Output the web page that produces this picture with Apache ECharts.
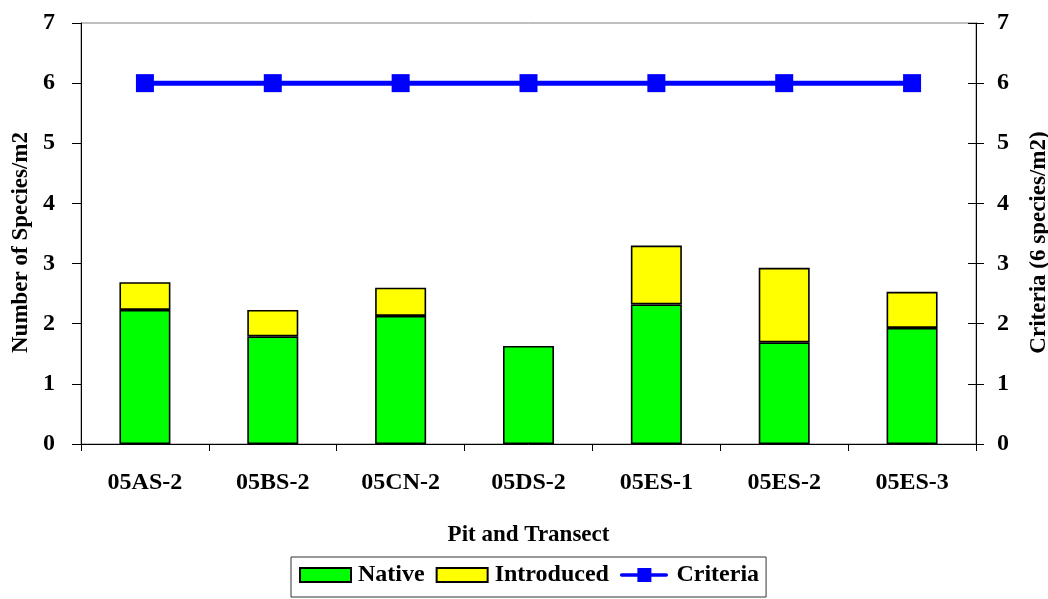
<!DOCTYPE html>
<html>
<head>
<meta charset="utf-8">
<script src="https://cdn.jsdelivr.net/npm/echarts@6/dist/echarts.min.js"></script>
<style>html,body{margin:0;padding:0;background:#fff}#c{width:1048px;height:599px}</style>
</head>
<body>
<div id="c"></div>
<script>
var categories = ['05AS-2', '05BS-2', '05CN-2', '05DS-2', '05ES-1', '05ES-2', '05ES-3'];
var nativeVals = [2.23, 1.79, 2.13, 1.63, 2.32, 1.69, 1.93];
var introducedVals = [0.46, 0.44, 0.47, 0, 0.98, 1.24, 0.60];
var criteriaVals = [6, 6, 6, 6, 6, 6, 6];
var yTicks = [0, 1, 2, 3, 4, 5, 6, 7];

var FONT = '"Liberation Serif", "Times New Roman", serif';
var txt = {fontFamily: FONT, fontWeight: 'bold', color: '#000'};

var chart = echarts.init(document.getElementById('c'), null, {renderer: 'canvas'});
chart.setOption({
  animation: false,
  backgroundColor: '#fff',
  grid: {left: 81, right: 72, top: 23, bottom: 155, show: true, borderColor: '#808080', borderWidth: 1,
         backgroundColor: 'transparent', outerBoundsMode: 'none', containLabel: false},
  legend: {
    left: 291, top: 557,
    padding: [6, 7, 10, 8],
    borderColor: '#333', borderWidth: 1,
    itemWidth: 51, itemHeight: 14, itemGap: 11,
    textStyle: Object.assign({fontSize: 24, padding: [0, 0, 0, 2]}, txt),
    data: [
      {name: 'Native', icon: 'rect', itemStyle: {color: '#00FF00', borderColor: '#000', borderWidth: 2}},
      {name: 'Introduced', icon: 'rect', itemStyle: {color: '#FFFF00', borderColor: '#000', borderWidth: 2}},
      {name: 'Criteria', icon: 'path://M2,6L53,6A2,2,0,0,1,53,10L2,10A2,2,0,0,1,2,6Z M20,0L36,0L36,16L20,16Z', itemStyle: {color: '#0000FF'}}
    ]
  },
  xAxis: {
    type: 'category',
    data: categories,
    name: 'Pit and Transect',
    nameLocation: 'middle',
    nameGap: 80,
    nameTextStyle: Object.assign({fontSize: 23}, txt),
    axisLine: {lineStyle: {color: '#000', width: 1}},
    axisTick: {show: true, length: 7, lineStyle: {color: '#000'}},
    axisLabel: Object.assign({fontSize: 24, margin: 27}, txt),
    splitLine: {show: false}
  },
  yAxis: [
    {
      type: 'value', min: 0, max: 7, interval: 1, position: 'left',
      name: 'Number of Species/m2', nameLocation: 'middle', nameGap: 48, nameRotate: 90,
      nameTextStyle: Object.assign({fontSize: 23, padding: [0, 18, 0, 0]}, txt),
      axisLine: {show: true, lineStyle: {color: '#000'}},
      axisTick: {show: true, length: 9, lineStyle: {color: '#000'}},
      axisLabel: Object.assign({fontSize: 24, margin: 26, formatter: function (v) { return yTicks.indexOf(v) >= 0 ? String(v) : ''; }}, txt),
      splitLine: {show: false}
    },
    {
      type: 'value', min: 0, max: 7, interval: 1, position: 'right',
      name: 'Criteria (6 species/m2)', nameLocation: 'middle', nameGap: 52, nameRotate: 90,
      nameTextStyle: Object.assign({fontSize: 23, padding: [0, 18, 0, 0]}, txt),
      axisLine: {show: true, lineStyle: {color: '#000'}},
      axisTick: {show: true, length: 8, lineStyle: {color: '#000'}},
      axisLabel: Object.assign({fontSize: 24, margin: 21}, txt),
      splitLine: {show: false}
    },
    {
      type: 'value', min: 0, max: 7, interval: 1, position: 'right',
      axisLine: {show: false},
      axisTick: {show: true, inside: true, length: 8, lineStyle: {color: '#000'}},
      axisLabel: {show: false},
      splitLine: {show: false}
    }
  ],
  series: [
    {
      name: 'Native', type: 'bar', stack: 's', yAxisIndex: 0, barWidth: 51,
      data: nativeVals,
      itemStyle: {color: '#00FF00', borderColor: '#000', borderWidth: 1.6}
    },
    {
      name: 'Introduced', type: 'bar', stack: 's', yAxisIndex: 0, barWidth: 51,
      data: introducedVals.map(function (v) { return v === 0 ? null : v; }),
      itemStyle: {color: '#FFFF00', borderColor: '#000', borderWidth: 1.6}
    },
    {
      name: 'Criteria', type: 'line', yAxisIndex: 1,
      data: criteriaVals,
      symbol: 'rect', symbolSize: 18,
      lineStyle: {color: '#0000FF', width: 5},
      itemStyle: {color: '#0000FF'},
      z: 5
    }
  ]
});
</script>
</body>
</html>
